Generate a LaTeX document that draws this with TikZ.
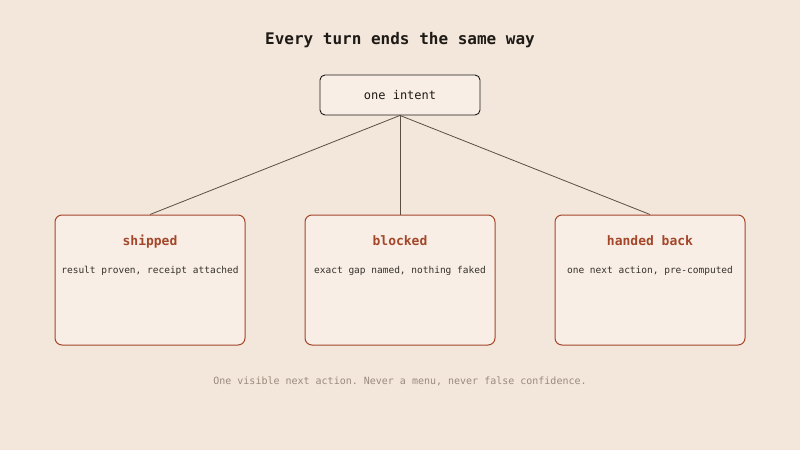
\documentclass[tikz,border=0pt]{standalone}
\usepackage{fontspec}
\setmonofont{DejaVu Sans Mono}
\usetikzlibrary{positioning}
\definecolor{bgc}{HTML}{F3E7DC}
\definecolor{boxfill}{HTML}{F8EEE5}
\definecolor{rust}{HTML}{A4462A}
\definecolor{ink}{HTML}{1E1A16}
\definecolor{wire}{HTML}{5C4D42}
\definecolor{muted}{HTML}{9A8A7C}
\begin{document}
\begin{tikzpicture}[x=1pt,y=-1pt,font=\ttfamily,
  topbox/.style={draw=ink,fill=boxfill,rounded corners=5pt,line width=0.9pt,minimum width=160pt,minimum height=40pt,inner sep=0pt,font=\ttfamily\fontsize{12}{14}\selectfont,text=ink},
  outbox/.style={draw=rust,fill=boxfill,rounded corners=7pt,line width=1pt,minimum width=190pt,minimum height=130pt,inner sep=0pt},
  outtitle/.style={font=\ttfamily\bfseries\fontsize{13}{15}\selectfont,text=rust,inner sep=0pt},
  outtext/.style={font=\ttfamily\fontsize{9.5}{11}\selectfont,text=ink!90,inner sep=0pt}]
\fill[bgc] (0,0) rectangle (800,450);
\useasboundingbox (0,0) rectangle (800,450);
\node[font=\ttfamily\bfseries\fontsize{16}{19}\selectfont,text=ink] (title) at (400,40) {Every turn ends the same way};
\node[topbox] (intent) at (400,95) {one intent};
\node[outbox] (shipped) at (150,280) {};
\node[outbox] (blocked) at (400,280) {};
\node[outbox] (handed) at (650,280) {};
\foreach \b/\t/\s in {shipped/shipped/{result proven, receipt attached},
                     blocked/blocked/{exact gap named, nothing faked},
                     handed/handed back/{one next action, pre-computed}}{
  \node[outtitle,below=31pt of \b.north,anchor=base] (\b-t) {\t};
  \node[outtext,below=28pt of \b-t.base,anchor=base] (\b-s) {\s};
  \draw[wire,line width=0.8pt] (intent.south) -- (\b.north);
}
\node[font=\ttfamily\fontsize{10}{12}\selectfont,text=muted] (note) at (400,381.5) {One visible next action. Never a menu, never false confidence.};
\end{tikzpicture}
\end{document}
